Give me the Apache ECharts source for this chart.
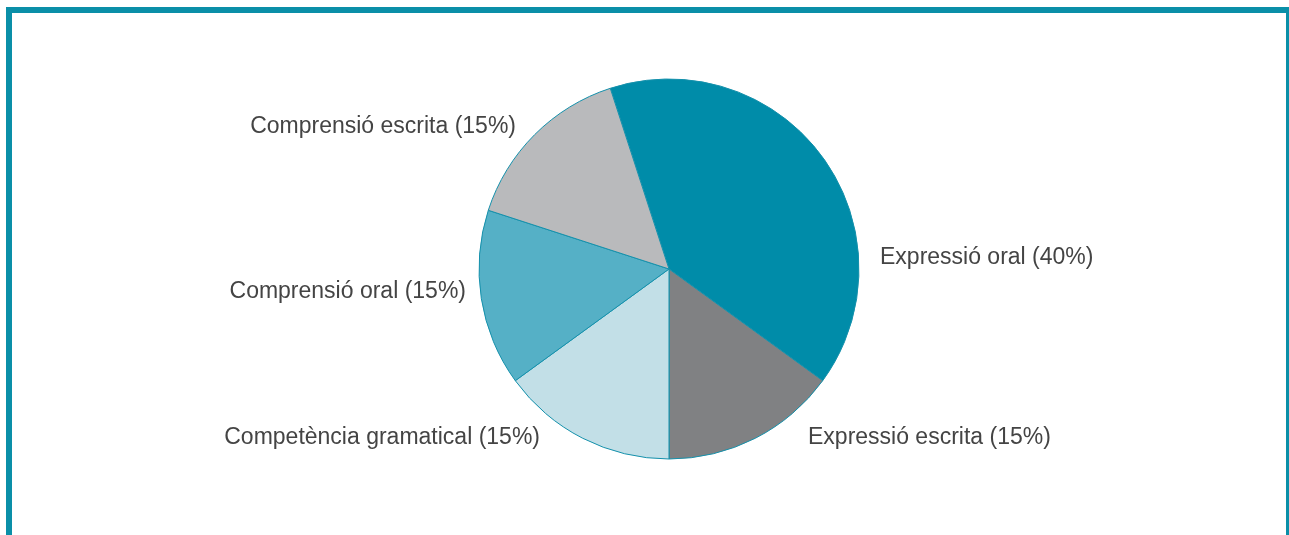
<!DOCTYPE html>
<html>
<head>
<meta charset="utf-8">
<style>
  html, body { margin: 0; padding: 0; background: #ffffff; }
  #chart { width: 1289px; height: 535px; }
</style>
<script src="https://cdn.jsdelivr.net/npm/echarts@6/dist/echarts.min.js"></script>
</head>
<body>
<div id="chart"></div>
<script>
// Weight of each part of the language exam (percent), clockwise from the top
const categories = [
  'Expressió oral',
  'Expressió escrita',
  'Competència gramatical',
  'Comprensió oral',
  'Comprensió escrita'
];
const shares = [40, 15, 15, 15, 15];
const sliceColors = ['#008ca9', '#808183', '#c2dfe7', '#55b0c6', '#b9babc'];

// Where each label sits (anchor point and text alignment)
const labelAnchors = [
  { x: 880, y: 258, align: 'left' },
  { x: 808, y: 438, align: 'left' },
  { x: 540, y: 438, align: 'right' },
  { x: 466, y: 292, align: 'right' },
  { x: 516, y: 127, align: 'right' }
];

const chart = echarts.init(document.getElementById('chart'), null, { renderer: 'canvas' });

chart.setOption({
  animation: false,
  backgroundColor: '#ffffff',
  graphic: [{
    type: 'rect',
    shape: { x: 9, y: 10, width: 1280, height: 600 },
    style: { fill: 'none', stroke: '#0a8fa8', lineWidth: 6 },
    silent: true
  }],
  series: [{
    type: 'pie',
    center: [669, 269],
    radius: 190,
    startAngle: 108,
    clockwise: true,
    avoidLabelOverlap: false,
    itemStyle: { borderColor: '#1591ac', borderWidth: 1 },
    label: {
      show: true,
      position: 'outside',
      formatter: p => p.name + ' (' + p.value + '%)',
      fontFamily: 'Liberation Sans, Arial, sans-serif',
      fontSize: 23,
      color: '#444444'
    },
    labelLine: { show: false },
    labelLayout: params => {
      const a = labelAnchors[params.dataIndex];
      return { x: a.x, y: a.y, align: a.align, verticalAlign: 'middle', hideOverlap: false };
    },
    data: categories.map((name, i) => ({
      name,
      value: shares[i],
      itemStyle: { color: sliceColors[i] }
    }))
  }]
});
</script>
</body>
</html>
